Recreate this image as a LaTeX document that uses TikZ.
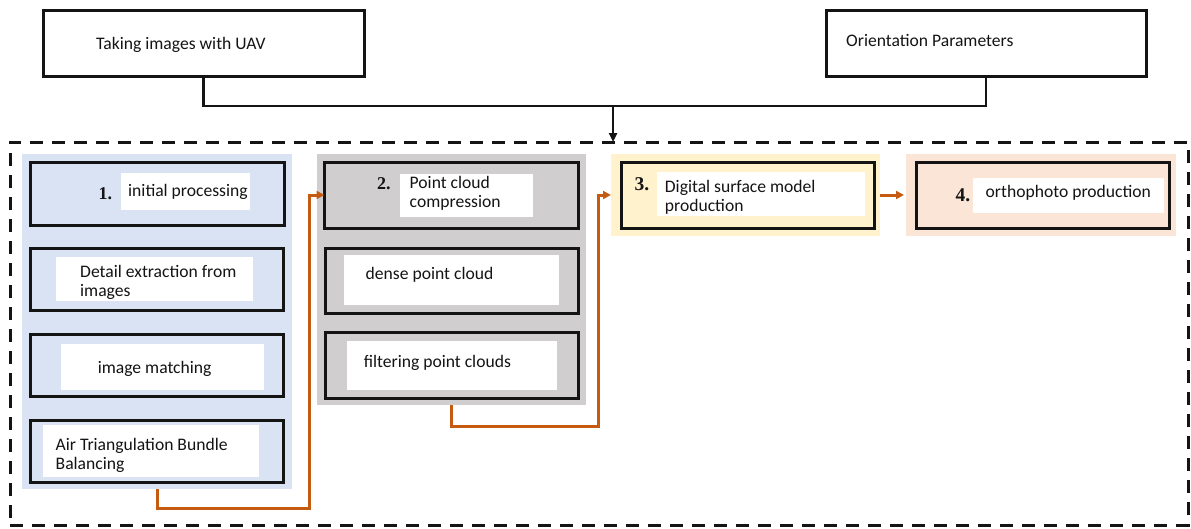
\documentclass[tikz,border=0pt]{standalone}
\usepackage{fontspec}
\setmainfont{Carlito}
\newfontfamily\numfont{Liberation Serif}
\usetikzlibrary{arrows.meta,fit}

\definecolor{bluepanel}{HTML}{DAE3F3}
\definecolor{graypanel}{HTML}{D0CECE}
\definecolor{yellowpanel}{HTML}{FFF2CC}
\definecolor{pinkpanel}{HTML}{FBE5D6}
\definecolor{floworange}{HTML}{C55A11}
\definecolor{ink}{HTML}{141414}

\begin{document}
\begin{tikzpicture}[x=1pt,y=-1pt,
  panel/.style={draw=none,inner sep=0pt,outer sep=0pt},
  stepbox/.style={draw=ink,line width=3pt,inner sep=0pt,outer sep=0pt},
  whitebox/.style={fill=white,draw=none,inner sep=0pt,outer sep=0pt},
  txt/.style={font=\fontsize{17.6}{18.6}\selectfont,inner sep=0pt,anchor=base west,align=left,text=ink},
  num/.style={font=\numfont\bfseries\fontsize{#1}{20}\selectfont,inner sep=0pt,anchor=base west,text=ink},
  num/.default=19.5,
  link/.style={draw=ink,line width=2.5pt},
  flow/.style={draw=floworange,line width=3pt,-{Triangle[length=8pt,width=8pt]}}
]
\useasboundingbox (0,0) rectangle (1191,528);

% dashed frame around the processing stages
\node[draw=ink,line width=3pt,dash pattern=on 13pt off 9pt,inner sep=0pt,outer sep=0pt,
      fit={(10,142)(1188,525)}] (frame) {};

% inputs
\node[stepbox,fit={(43,10)(364,76)}] (t1) {};
\node[txt] (t1text) at (96,49) {Taking images with UAV};
\node[stepbox,fit={(826,10)(1146,76)}] (t2) {};
\node[txt] (t2text) at (846,46) {Orientation Parameters};

% stage panels
\node[panel,fill=bluepanel,fit={(22,154)(292,489)}] (p1) {};
\node[panel,fill=graypanel,fit={(317,154)(586,405)}] (p2) {};
\node[panel,fill=yellowpanel,fit={(611,154)(880,236)}] (p3) {};
\node[panel,fill=pinkpanel,fit={(906,154)(1176,236)}] (p4) {};

% stage 1 (multi-line labels are placed by the baseline of their last line)
\node[stepbox,fit={(30,162)(284,225)}] (b1) {};
\node[whitebox,fit={(120.5,173)(249.5,210)}] (w1) {};
\node[num=18] (n1) at (98.5,199.5) {1.};
\node[txt] (b1text) at (128,196) {initial processing};

\node[stepbox,fit={(30,248)(283,310)}] (bdetail) {};
\node[whitebox,fit={(55.5,257)(253,301)}] (wdetail) {};
\node[txt] (bdetailtext) at (80,296) {Detail extraction from\\images};

\node[stepbox,fit={(30,334)(283,396)}] (bmatch) {};
\node[whitebox,fit={(60.5,344)(264,390)}] (wmatch) {};
\node[txt] (bmatchtext) at (97.6,373) {image matching};

\node[stepbox,fit={(30,420)(283,482)}] (bair) {};
\node[whitebox,fit={(43,425)(259,477)}] (wair) {};
\node[txt] (bairtext) at (55.5,469) {Air Triangulation Bundle\\Balancing};

% stage 2
\node[stepbox,fit={(324.5,162)(578.6,228)}] (b2) {};
\node[whitebox,fit={(400,174)(533,217)}] (w2) {};
\node[num=18] (n2) at (377,189) {2.};
\node[txt] (b2text) at (409.5,207) {Point cloud\\compression};

\node[stepbox,fit={(325,248)(578.6,313)}] (bdense) {};
\node[whitebox,fit={(344,255)(559,305)}] (wdense) {};
\node[txt] (bdensetext) at (365.5,279) {dense point cloud};

\node[stepbox,fit={(325,332)(578.6,398)}] (bfilter) {};
\node[whitebox,fit={(347,341)(557,390)}] (wfilter) {};
\node[txt] (bfiltertext) at (363.6,367) {filtering point clouds};

% stage 3
\node[stepbox,fit={(621.4,162)(874.4,228)}] (b3) {};
\node[whitebox,fit={(657,172)(865,216)}] (w3) {};
\node[num] (n3) at (634.5,190) {3.};
\node[txt] (b3text) at (664.7,211) {Digital surface model\\production};

% stage 4
\node[stepbox,fit={(916.6,162)(1169.5,228)}] (b4) {};
\node[whitebox,fit={(973,178)(1164,213)}] (w4) {};
\node[num] (n4) at (955.5,201.7) {4.};
\node[txt] (b4text) at (985.5,197) {orthophoto production};

% inputs merge into the processing frame
\coordinate (merge) at (613,106);
\draw[link] (t1.south) |- (merge);
\draw[link] (t2.south) |- (merge);
\draw[link,-{Triangle[length=9pt,width=8pt]}] (merge) -- (merge |- frame.north);

% flow between stages
\draw[flow] (p1.south) -- ++(0,19) -| ([xshift=-15.5pt]b2.west) -- (b2.west);
\draw[flow] (p2.south) -- ++(0,21) -| ([xshift=-13pt]p3.west) -- (p3.west);
\draw[flow] (p3.east) -- ([xshift=-2pt]p4.west);
\end{tikzpicture}
\end{document}
